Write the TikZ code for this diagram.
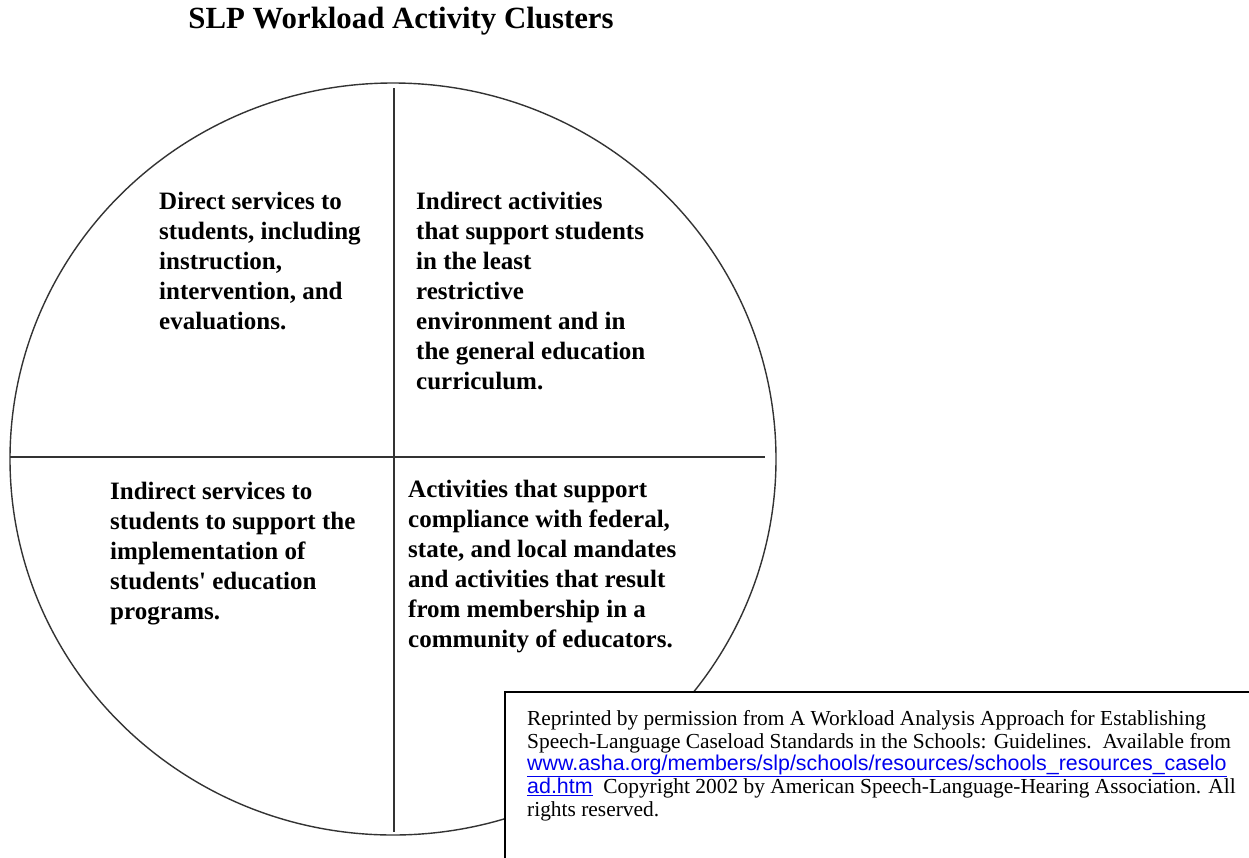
\documentclass[tikz,border=0pt]{standalone}
\usepackage{fontspec}
\setmainfont{Liberation Serif}
\newfontfamily\linkfont{Liberation Sans}
\definecolor{linkblue}{RGB}{0,0,238}
\begin{document}
\begin{tikzpicture}[x=1pt,y=-1pt,
  quad/.style={anchor=north west, inner sep=0pt, align=left, font=\bfseries\fontsize{25}{30}\selectfont},
  divider/.style={line width=1.4pt, draw=black!80},
  notebox/.style={line width=2pt, draw=black, fill=white},
  notetext/.style={anchor=north west, inner sep=0pt, align=left, font=\fontsize{21.4}{22.75}\selectfont}]
\useasboundingbox[fill=white] (0,0) rectangle (1249,857);
\node[font=\bfseries\fontsize{30.8}{34}\selectfont] (title) at (401,21) {SLP Workload Activity Clusters};
\draw[divider] (393,459) ellipse [x radius=383, y radius=376];
\coordinate (vtop) at (394,88);
\coordinate (vbot) at (394,832);
\coordinate (hleft) at (10,457);
\coordinate (hright) at (765,457);
\draw[divider] (vtop) -- (vbot);
\draw[divider] (hleft) -- (hright);
\node[quad] (q1) at (159,192) {Direct services to\\students, including\\instruction,\\intervention, and\\evaluations.};
\node[quad] (q2) at (416,192) {Indirect activities\\that support students\\in the least\\restrictive\\environment and in\\the general education\\curriculum.};
\node[quad] (q3) at (110,482) {Indirect services to\\students to support the\\implementation of\\students\textquotesingle{} education\\programs.};
\node[quad] (q4) at (408,480) {Activities that support\\compliance with federal,\\state, and local mandates\\and activities that result\\from membership in a\\community of educators.};
\draw[notebox] (505,692) rectangle (1262,872);
\node[notetext] (note) at (527,710) {Reprinted by permission from A Workload Analysis Approach for Establishing\\
Speech-Language Caseload Standards in the Schools: Guidelines.\ \ Available from\\
{\linkfont\color{linkblue}\underline{www.asha.org/members/slp/schools/resources/schools\_resources\_caselo}}\\
{\linkfont\color{linkblue}\underline{ad.htm}}\ \ Copyright 2002 by American Speech-Language-Hearing Association. All\\
rights reserved.};
\end{tikzpicture}
\end{document}
